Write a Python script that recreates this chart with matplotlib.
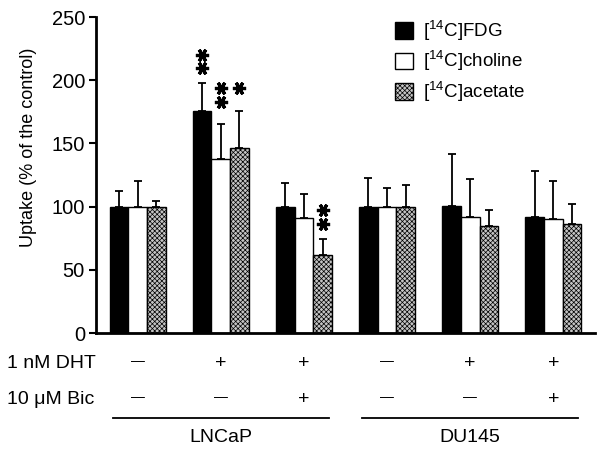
import matplotlib
matplotlib.use("Agg")
import matplotlib.pyplot as plt
import numpy as np
from matplotlib.patches import Patch

plt.rcParams['font.family'] = ['Liberation Sans', 'DejaVu Sans']
plt.rcParams['mathtext.default'] = 'regular'
plt.rcParams['hatch.linewidth'] = 0.5
plt.rcParams['hatch.color'] = '#6a6a6a'

series = [r'[$^{14}$C]FDG', r'[$^{14}$C]choline', r'[$^{14}$C]acetate']
fdg = [100, 176, 100, 100, 100.5, 92]
fdg_err = [12, 21.5, 18.5, 23, 41.5, 36.5]
choline = [100, 138, 91, 100, 92, 90]
choline_err = [20, 27, 19, 14.5, 30, 30]
acetate = [100, 146.5, 61.5, 100, 85, 86]
acetate_err = [4.5, 29, 13, 17, 12, 16]

dht = ['—', '+', '+', '—', '+', '+']
bic = ['—', '—', '+', '—', '—', '+']
cell_lines = ['LNCaP', 'DU145']
yticks = [0, 50, 100, 150, 200, 250]
ylabel = 'Uptake (% of the control)'

# significance: (group, series index, number of stars, first offset above error bar)
stars = [(1, 0, 2, 12), (1, 1, 2, 18), (1, 2, 1, 18), (2, 2, 2, 12)]

fig = plt.figure(figsize=(6.04, 4.54), dpi=100)
ax = fig.add_axes([0.159, 0.2665, 0.826, 0.696])

x = np.arange(len(fdg))
w = 0.225
vals = [fdg, choline, acetate]
errs = [fdg_err, choline_err, acetate_err]
styles = [dict(facecolor='black', hatch=None),
          dict(facecolor='white', hatch=None),
          dict(facecolor='#c4c4c4', hatch='xxxxxxx')]
for i, (v, e, st) in enumerate(zip(vals, errs, styles)):
    pos = x + (i - 1) * w
    ax.errorbar(pos, v, yerr=[np.zeros(len(v)), e], fmt='none', ecolor='black',
                elinewidth=1.3, capsize=3, capthick=1.3, zorder=1)
    ax.bar(pos, v, width=w, facecolor=st['facecolor'], edgecolor='black',
           linewidth=1.0, hatch=st['hatch'], zorder=2, label=series[i])

for g, s, n, off in stars:
    xp = x[g] + (s - 1) * w
    top = vals[s][g] + errs[s][g]
    for k in range(n):
        ax.plot(xp, top + off + k * 10.5, marker=(6, 2, 90), markersize=9.5,
                markeredgewidth=2.3, color='black', zorder=4, clip_on=False)

ax.set_xlim(-0.5, 5.5)
ax.set_ylim(0, 250)
ax.set_yticks(yticks)
ax.set_xticks([])
ax.tick_params(axis='y', direction='out', length=5, width=1.5, labelsize=14.5, pad=3)
for sp in ['top', 'right']:
    ax.spines[sp].set_visible(False)
for sp in ['left', 'bottom']:
    ax.spines[sp].set_linewidth(2)
ax.set_ylabel(ylabel, fontsize=13)
ax.yaxis.set_label_coords(37 / 604, 1 - 147 / 454, transform=fig.transFigure)

handles = [Patch(facecolor='black', edgecolor='black'),
           Patch(facecolor='white', edgecolor='black'),
           Patch(facecolor='#c4c4c4', edgecolor='black', hatch='xxxxxxx')]
leg = ax.legend(handles, series, loc='upper left', bbox_to_anchor=(395 / 604, 1 - 19 / 454),
                bbox_transform=fig.transFigure, frameon=False, fontsize=13.5,
                handlelength=0.98, handleheight=0.98, handletextpad=0.5,
                labelspacing=0.33, borderpad=0, borderaxespad=0)

trans = matplotlib.transforms.blended_transform_factory(ax.transData, fig.transFigure)
y_dht = 1 - 363 / 454
y_bic = 1 - 399 / 454
for xi, d, b in zip(x, dht, bic):
    for lab, yy in [(d, y_dht), (b, y_bic)]:
        if lab == '—':
            ax.text(xi, yy + 0.005, lab, transform=trans, ha='center', va='center', fontsize=10)
        else:
            ax.text(xi, yy, lab, transform=trans, ha='center', va='center', fontsize=14)
fig.text(7 / 604, y_dht, '1 nM DHT', ha='left', va='center', fontsize=14)
fig.text(7 / 604, y_bic, '10 μM Bic', ha='left', va='center', fontsize=14)

y_line = 1 - 418 / 454
y_cell = 1 - 438 / 454
for j, name in enumerate(cell_lines):
    c = 1 + 3 * j
    ax.plot([c - 1.3, c + 1.3], [y_line, y_line], transform=trans, color='black',
            linewidth=1.3, clip_on=False)
    ax.text(c, y_cell, name, transform=trans, ha='center', va='center', fontsize=14)

fig.savefig('out.png', dpi=100)
